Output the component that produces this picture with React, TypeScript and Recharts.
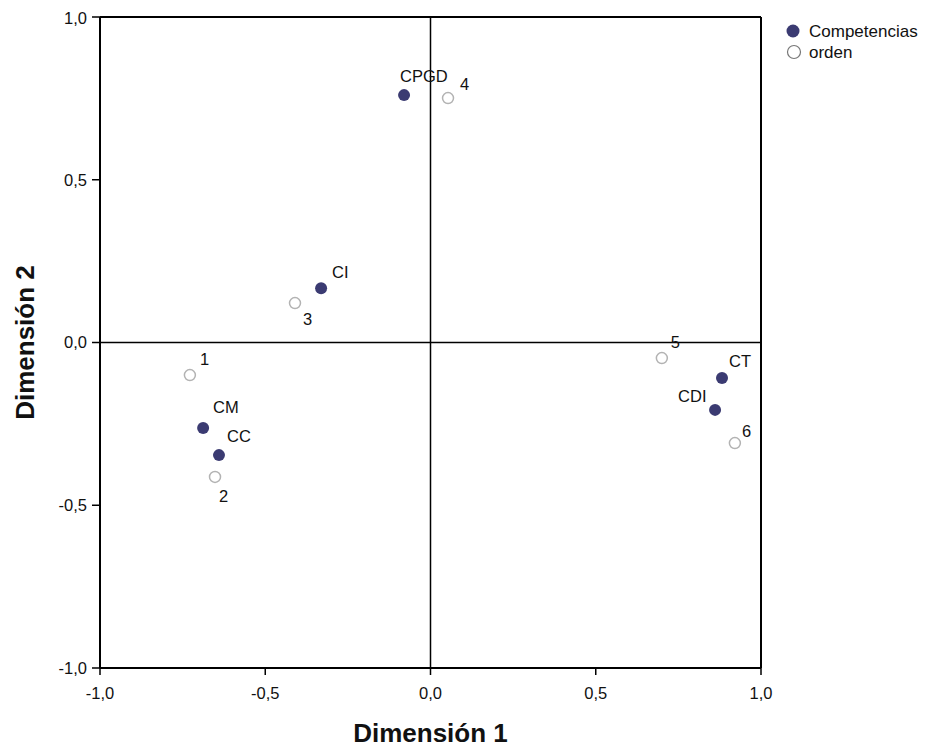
import React from 'react';
import {
  ScatterChart,
  Scatter,
  XAxis,
  YAxis,
  ReferenceLine,
  Label,
} from 'recharts';

// category points (Dimensión 1, Dimensión 2)
const competencias = [
  { name: 'CPGD', x: -0.08, y: 0.76 },
  { name: 'CI', x: -0.331, y: 0.167 },
  { name: 'CM', x: -0.688, y: -0.263 },
  { name: 'CC', x: -0.64, y: -0.346 },
  { name: 'CT', x: 0.882, y: -0.109 },
  { name: 'CDI', x: 0.861, y: -0.207 },
];

const orden = [
  { name: '1', x: -0.728, y: -0.1 },
  { name: '2', x: -0.652, y: -0.413 },
  { name: '3', x: -0.41, y: 0.121 },
  { name: '4', x: 0.053, y: 0.751 },
  { name: '5', x: 0.7, y: -0.048 },
  { name: '6', x: 0.921, y: -0.309 },
];

const axisTicks = [-1, -0.5, 0, 0.5, 1];

// where each point label sits relative to its marker
const labelOffset: Record<string, [number, number]> = {
  CPGD: [-4, -13],
  CI: [11, -10],
  CM: [10, -15],
  CC: [8, -13],
  CT: [7, -11],
  CDI: [-37, -8],
  '1': [10, -10],
  '2': [4, 25],
  '3': [8, 22],
  '4': [12, -8],
  '5': [9, -10],
  '6': [7, -6],
};

const FONT = '"Liberation Sans", Arial, sans-serif';
const NAVY = '#3b3b72';
const OPEN = '#b3b3b3';

const fmt = (v: number) => v.toFixed(1).replace('.', ',');

const PointLabel = ({ cx, cy, name }: { cx: number; cy: number; name: string }) => {
  const [dx, dy] = labelOffset[name] || [8, -8];
  return (
    <text x={cx + dx} y={cy + dy} fontSize={16.5} fill="#111" fontFamily={FONT}>
      {name}
    </text>
  );
};

const filledShape = (props: any) => (
  <g>
    <circle cx={props.cx} cy={props.cy} r={6} fill={NAVY} />
    <PointLabel cx={props.cx} cy={props.cy} name={props.payload.name} />
  </g>
);

const openShape = (props: any) => (
  <g>
    <circle cx={props.cx} cy={props.cy} r={5.5} fill="#fff" stroke={OPEN} strokeWidth={1.5} />
    <PointLabel cx={props.cx} cy={props.cy} name={props.payload.name} />
  </g>
);

const App: React.FC = () => {
  return (
    <div style={{ position: 'relative', width: 930, height: 741, fontFamily: FONT }}>
      <ScatterChart
        width={930}
        height={741}
        margin={{ top: 9, right: 177, left: 0, bottom: 0 }}
      >
        <XAxis
          type="number"
          dataKey="x"
          domain={[-1, 1]}
          ticks={axisTicks}
          tickFormatter={fmt}
          height={81}
          tickSize={7}
          tickMargin={12}
          tick={{ fontSize: 16.5, fill: '#111', fontFamily: FONT }}
          axisLine={{ stroke: '#000', strokeWidth: 2 }}
          tickLine={{ stroke: '#000', strokeWidth: 1.5 }}
        >
          <Label
            content={({ viewBox }: any) => (
              <text
                x={viewBox.x + viewBox.width / 2}
                y={viewBox.y + viewBox.height - 7}
                textAnchor="middle"
                fontSize={26}
                fontWeight="bold"
                fill="#111"
                fontFamily={FONT}
              >
                Dimensión 1
              </text>
            )}
          />
        </XAxis>
        <YAxis
          type="number"
          dataKey="y"
          domain={[-1, 1]}
          ticks={axisTicks}
          tickFormatter={fmt}
          width={92}
          tickSize={8}
          tickMargin={5}
          tick={{ fontSize: 16.5, fill: '#111', fontFamily: FONT }}
          axisLine={{ stroke: '#000', strokeWidth: 2 }}
          tickLine={{ stroke: '#000', strokeWidth: 1.5 }}
        >
          <Label
            content={({ viewBox }: any) => {
              const cy = viewBox.y + viewBox.height / 2;
              return (
                <text
                  x={26}
                  y={cy}
                  transform={`rotate(-90, 26, ${cy})`}
                  textAnchor="middle"
                  fontSize={26}
                  fontWeight="bold"
                  fill="#111"
                  fontFamily={FONT}
                >
                  Dimensión 2
                </text>
              );
            }}
          />
        </YAxis>
        <ReferenceLine y={1} stroke="#000" strokeWidth={2} />
        <ReferenceLine x={1} stroke="#000" strokeWidth={2} />
        <ReferenceLine y={0} stroke="#000" strokeWidth={1.5} />
        <ReferenceLine x={0} stroke="#000" strokeWidth={1.5} />
        <Scatter name="orden" data={orden} shape={openShape} isAnimationActive={false} />
        <Scatter name="Competencias" data={competencias} shape={filledShape} isAnimationActive={false} />
      </ScatterChart>
      <svg
        width={165}
        height={60}
        style={{ position: 'absolute', left: 770, top: 5 }}
      >
        <circle cx={15} cy={18} r={6.5} fill={NAVY} />
        <text x={31} y={24} fontSize={17} fill="#111" fontFamily={FONT}>
          Competencias
        </text>
        <circle cx={16} cy={39} r={6.5} fill="#fff" stroke="#777" strokeWidth={1.2} />
        <text x={31} y={45} fontSize={17} fill="#111" fontFamily={FONT}>
          orden
        </text>
      </svg>
    </div>
  );
};

export default App;
